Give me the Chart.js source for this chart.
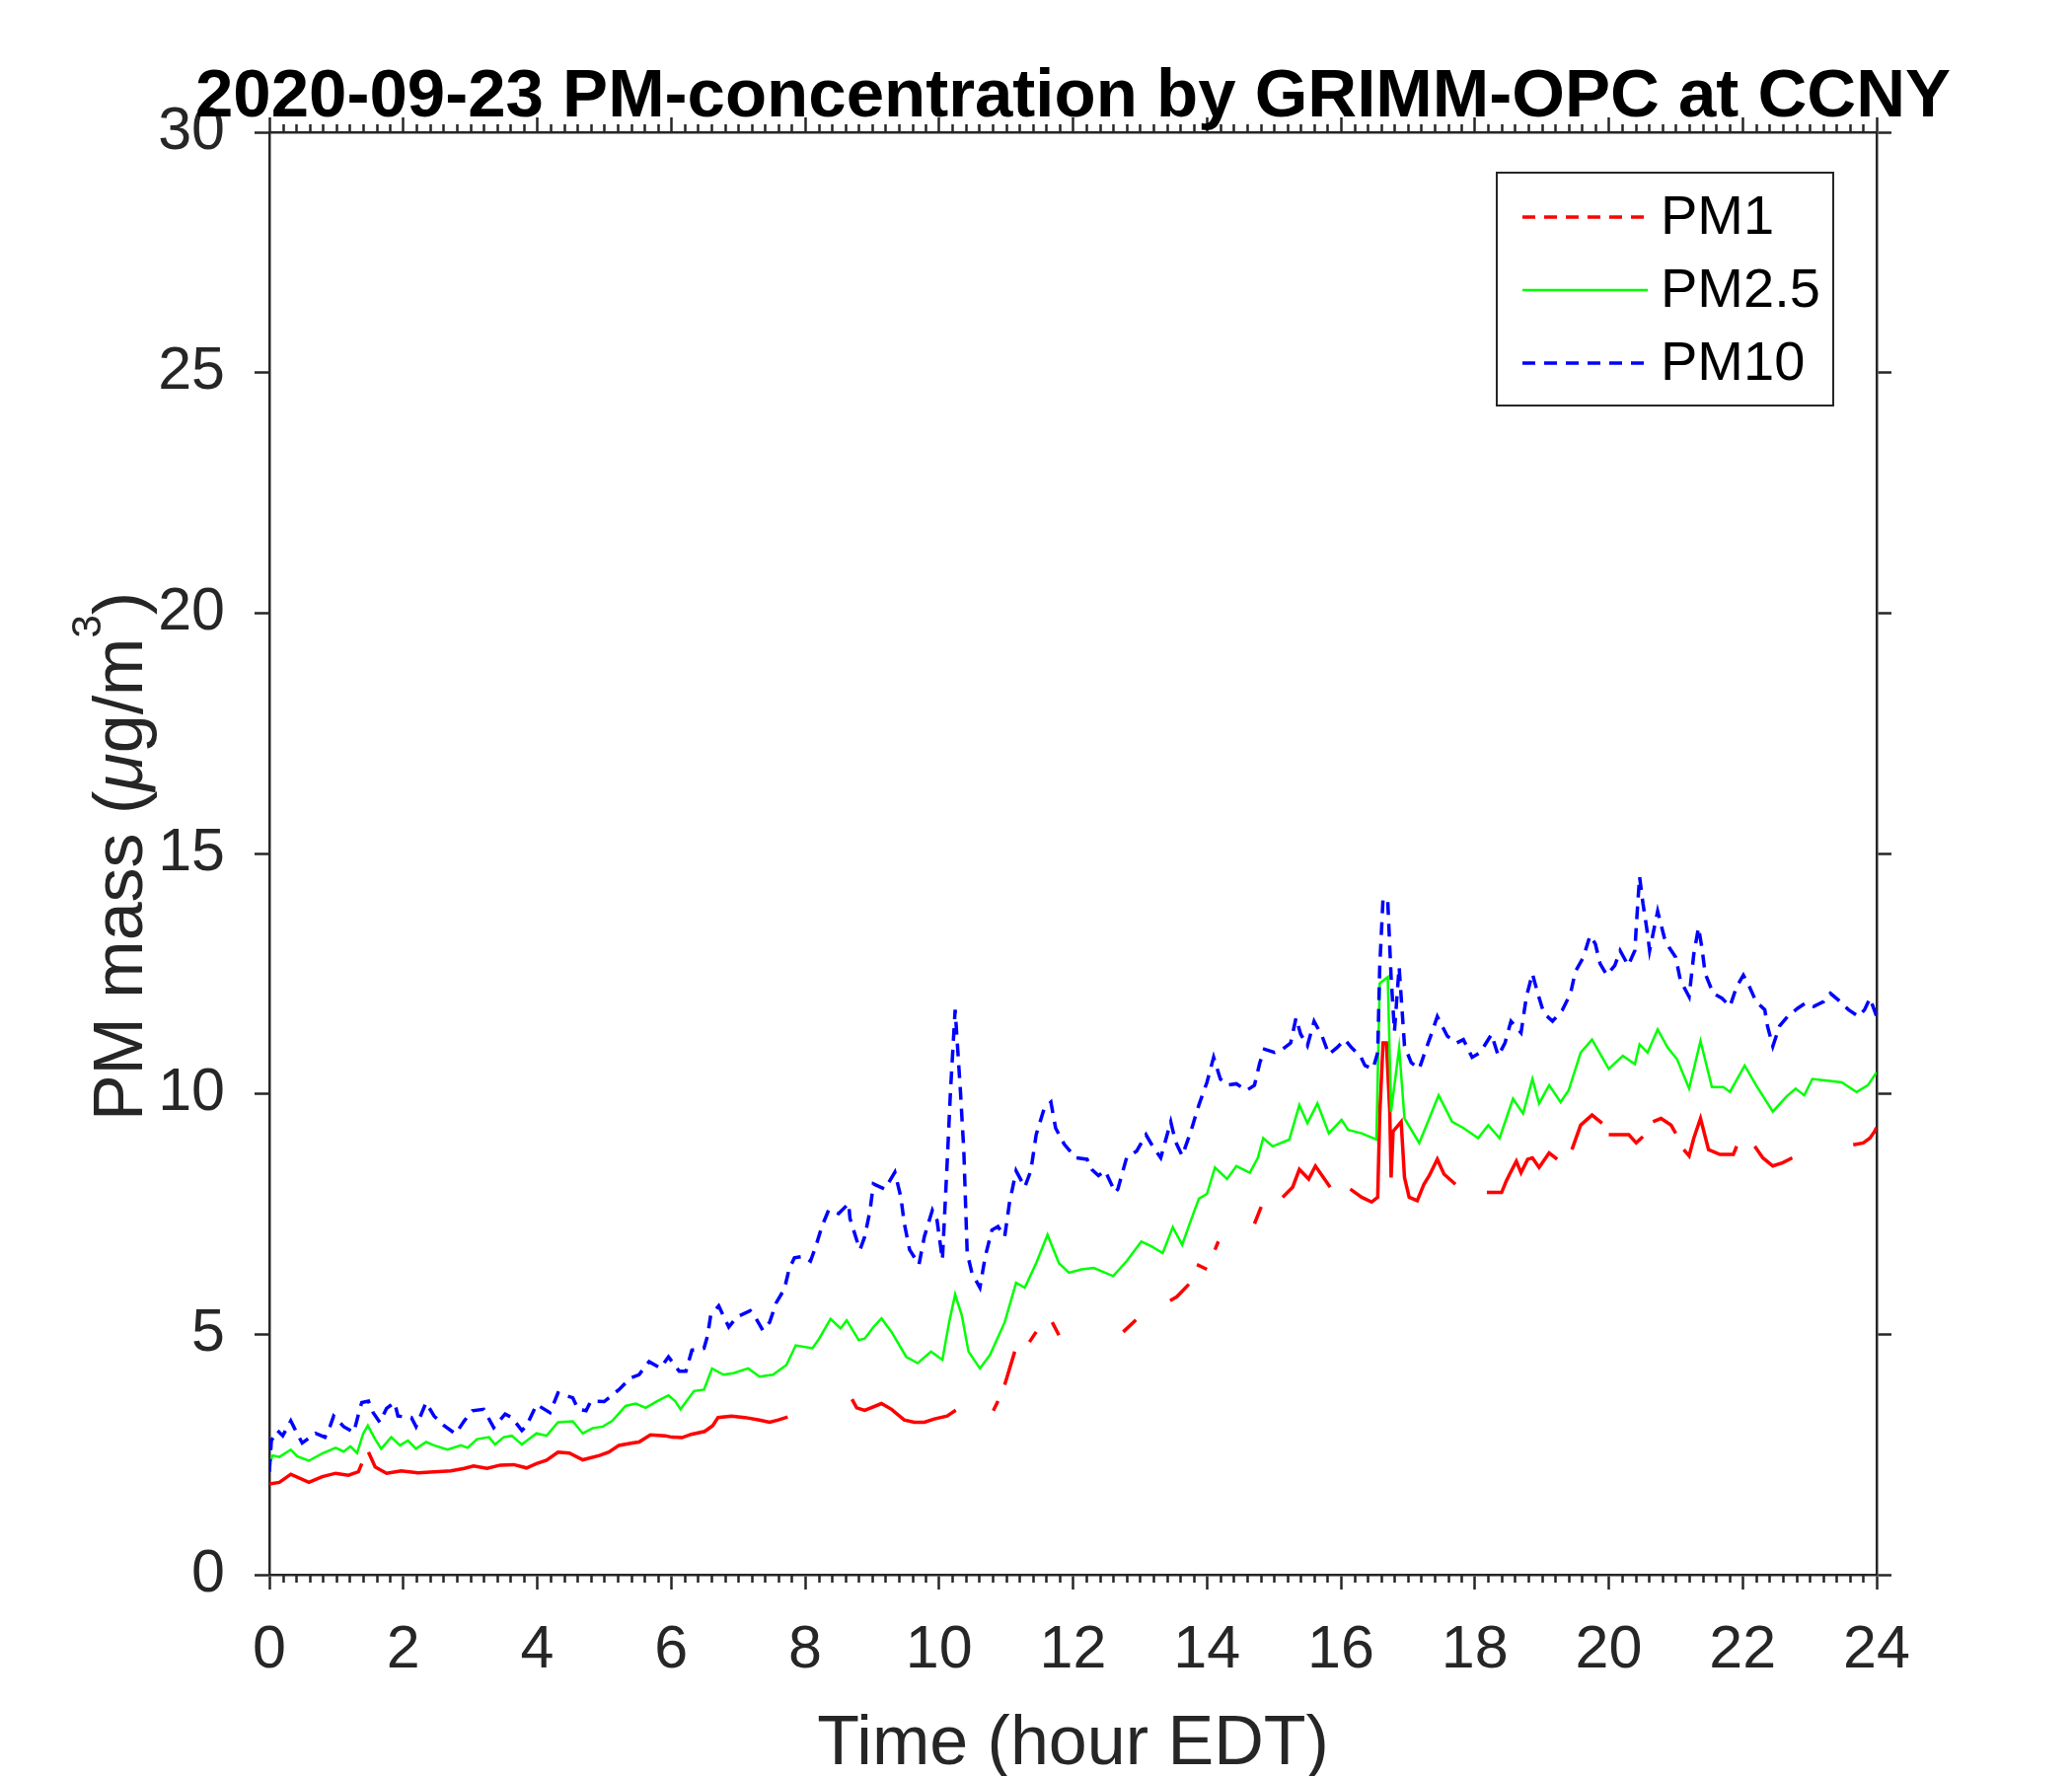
<!DOCTYPE html>
<html lang="en">
<head>
  <meta charset="UTF-8">
  <title>PM concentration GRIMM-OPC</title>
  <script src="https://cdn.jsdelivr.net/npm/chart.js"></script>
  <style>
    body { margin: 0; background: #fff; }
    #wrap { width: 2100px; height: 1800px; }
  </style>
</head>
<body>
  <div id="wrap"><canvas id="pmChart" width="2100" height="1800"></canvas></div>

  <script>
    const chartTitle = '2020-09-23 PM-concentration by GRIMM-OPC at CCNY';
    const xTitle = 'Time (hour EDT)';
    const seriesNames = ['PM1', 'PM2.5', 'PM10'];
    const xTicks = { min: 0, max: 24, step: 2, minorStep: 0.2 };
    const yTicks = { min: 0, max: 30, step: 5 };

    // PM1 (null = no visible line in the original)
    const pm1Time = [
      0, 0.15, 0.32, 0.59, 0.79, 0.99, 1.18, 1.33, 1.38, 1.43,
      1.48, 1.58, 1.75, 1.97, 2.22, 2.46, 2.71, 2.91, 3.05, 3.25,
      3.45, 3.65, 3.84, 3.99, 4.14, 4.31, 4.48, 4.68, 4.93, 5.07,
      5.22, 5.42, 5.52, 5.69, 5.91, 6.01, 6.16, 6.3, 6.5, 6.62,
      6.7, 6.9, 7.1, 7.3, 7.47, 7.6, 7.74, 8.2, 8.7, 8.77,
      8.89, 9.14, 9.29, 9.48, 9.63, 9.78, 9.93, 10.12, 10.25, 10.5,
      10.81, 10.88, 10.93, 10.98, 11.13, 11.25, 11.35, 11.45, 11.6, 11.69,
      11.79, 12.3, 12.75, 12.94, 13.2, 13.45, 13.55, 13.73, 13.8, 13.85,
      14.00, 14.06, 14.12, 14.17, 14.4, 14.71, 14.81, 15.0, 15.13, 15.28,
      15.38, 15.52, 15.62, 15.74, 15.84, 16.0, 16.14, 16.31, 16.46, 16.55,
      16.58, 16.63, 16.68, 16.73, 16.75, 16.78, 16.90, 16.95, 17.02, 17.14,
      17.24, 17.32, 17.44, 17.54, 17.71, 17.95, 18.18, 18.4, 18.47, 18.52,
      18.62, 18.69, 18.79, 18.86, 18.96, 19.11, 19.23, 19.35, 19.45, 19.58,
      19.75, 19.90, 19.95, 20.0, 20.3, 20.41, 20.51, 20.58, 20.66, 20.78,
      20.93, 21.00, 21.06, 21.12, 21.20, 21.27, 21.37, 21.44, 21.49, 21.66,
      21.86, 21.91, 22.05, 22.18, 22.30, 22.45, 22.60, 22.74, 23.2, 23.65,
      23.80, 23.90, 23.97, 24.0
    ];
    const pm1 = [
      1.89, 1.92, 2.09, 1.92, 2.04, 2.11, 2.07, 2.14, 2.31, null,
      2.55, 2.24, 2.11, 2.16, 2.12, 2.14, 2.16, 2.21, 2.26, 2.21,
      2.28, 2.29, 2.22, 2.31, 2.38, 2.55, 2.53, 2.39, 2.48, 2.55,
      2.69, 2.74, 2.76, 2.91, 2.89, 2.86, 2.85, 2.92, 2.98, 3.10,
      3.27, 3.30, 3.27, 3.22, 3.17, 3.22, 3.28, null, 3.65, 3.47,
      3.42, 3.56, 3.44, 3.22, 3.17, 3.17, 3.24, 3.30, 3.42, null,
      3.41, 3.61, null, 3.95, 4.64, null, 4.84, 5.05, null, 5.25,
      4.98, null, 5.05, 5.30, null, 5.70, 5.78, 6.04, null, 6.45,
      6.35, null, 6.76, 6.93, null, 7.30, 7.65, null, 7.85, 8.06,
      8.43, 8.23, 8.50, 8.26, 8.06, null, 8.02, 7.85, 7.75, 7.85,
      9.56, 11.06, 11.06, 9.63, 8.26, 9.22, 9.42, 8.26, 7.85, 7.78,
      8.12, 8.30, 8.64, 8.33, 8.12, null, 7.95, 7.95, 8.19, 8.33,
      8.60, 8.36, 8.64, 8.67, 8.47, 8.77, 8.64, null, 8.84, 9.35,
      9.56, 9.39, null, 9.15, 9.15, 8.98, 9.11, null, 9.42, 9.49,
      9.35, 9.18, null, 8.84, 8.71, 9.08, 9.49, 9.11, 8.84, 8.74,
      8.74, 8.91, null, 8.91, 8.67, 8.50, 8.57, 8.67, null, 8.94,
      8.98, 9.08, 9.22, 9.30
    ];

    // PM2.5
    const pm25Time = [
      0, 0.05, 0.15, 0.32, 0.42, 0.59, 0.79, 0.99, 1.11, 1.21,
      1.31, 1.40, 1.47, 1.58, 1.67, 1.82, 1.95, 2.07, 2.19, 2.34,
      2.46, 2.66, 2.86, 2.96, 3.10, 3.28, 3.37, 3.50, 3.62, 3.77,
      3.99, 4.14, 4.31, 4.53, 4.68, 4.83, 4.98, 5.12, 5.32, 5.47,
      5.62, 5.79, 5.96, 6.06, 6.14, 6.34, 6.49, 6.61, 6.78, 6.93,
      7.15, 7.32, 7.52, 7.72, 7.86, 8.11, 8.21, 8.38, 8.53, 8.62,
      8.80, 8.89, 9.02, 9.14, 9.29, 9.51, 9.68, 9.88, 10.05, 10.15,
      10.24, 10.34, 10.44, 10.61, 10.76, 10.98, 11.15, 11.28, 11.45, 11.62,
      11.79, 11.94, 12.13, 12.31, 12.60, 12.80, 13.02, 13.17, 13.34, 13.49,
      13.63, 13.76, 13.88, 14.00, 14.12, 14.30, 14.44, 14.64, 14.76, 14.84,
      14.98, 15.23, 15.38, 15.50, 15.65, 15.82, 16.01, 16.11, 16.31, 16.53,
      16.58, 16.70, 16.75, 16.87, 16.95, 17.17, 17.32, 17.46, 17.66, 17.83,
      18.05, 18.20, 18.37, 18.57, 18.72, 18.86, 18.96, 19.11, 19.28, 19.40,
      19.58, 19.75, 20.00, 20.21, 20.39, 20.46, 20.58, 20.73, 20.88, 21.02,
      21.20, 21.37, 21.54, 21.71, 21.81, 22.03, 22.20, 22.45, 22.65, 22.79,
      22.92, 23.04, 23.23, 23.48, 23.70, 23.87, 24.0
    ];
    const pm25 = [
      2.31, 2.48, 2.45, 2.60, 2.46, 2.37, 2.52, 2.64, 2.56, 2.67,
      2.53, 2.93, 3.10, 2.82, 2.62, 2.86, 2.69, 2.79, 2.62, 2.76,
      2.69, 2.60, 2.69, 2.64, 2.82, 2.86, 2.71, 2.86, 2.89, 2.71,
      2.94, 2.89, 3.17, 3.19, 2.94, 3.05, 3.08, 3.20, 3.51, 3.56,
      3.47, 3.61, 3.73, 3.61, 3.44, 3.82, 3.85, 4.29, 4.16, 4.19,
      4.29, 4.12, 4.16, 4.36, 4.77, 4.71, 4.91, 5.32, 5.12, 5.29,
      4.88, 4.91, 5.15, 5.33, 5.05, 4.53, 4.40, 4.64, 4.47, 5.25,
      5.83, 5.39, 4.64, 4.29, 4.57, 5.25, 6.07, 5.97, 6.48, 7.07,
      6.48, 6.28, 6.35, 6.38, 6.21, 6.52, 6.93, 6.83, 6.69, 7.23,
      6.86, 7.37, 7.82, 7.92, 8.47, 8.23, 8.50, 8.36, 8.67, 9.08,
      8.91, 9.05, 9.77, 9.39, 9.80, 9.18, 9.46, 9.25, 9.18, 9.05,
      12.30, 12.43, 9.63, 10.96, 9.49, 8.98, 9.49, 9.97, 9.42, 9.29,
      9.08, 9.35, 9.08, 9.90, 9.59, 10.31, 9.80, 10.18, 9.83, 10.07,
      10.86, 11.13, 10.52, 10.79, 10.62, 11.03, 10.86, 11.34, 10.96, 10.72,
      10.11, 11.10, 10.14, 10.14, 10.04, 10.59, 10.18, 9.63, 9.94, 10.11,
      9.97, 10.31, 10.28, 10.24, 10.04, 10.18, 10.45
    ];

    // PM10
    const pm10Time = [
      0, 0.03, 0.12, 0.2, 0.32, 0.37, 0.49, 0.57, 0.69, 0.83,
      0.91, 0.96, 1.11, 1.26, 1.35, 1.38, 1.48, 1.55, 1.65, 1.75,
      1.87, 1.92, 2.12, 2.19, 2.34, 2.46, 2.61, 2.78, 2.91, 3.03,
      3.20, 3.35, 3.52, 3.62, 3.77, 3.84, 3.99, 4.19, 4.31, 4.53,
      4.61, 4.73, 4.80, 5.00, 5.22, 5.39, 5.52, 5.67, 5.84, 5.96,
      6.12, 6.22, 6.31, 6.49, 6.54, 6.59, 6.71, 6.86, 6.98, 7.18,
      7.27, 7.37, 7.47, 7.57, 7.69, 7.76, 7.84, 7.96, 8.08, 8.16,
      8.25, 8.35, 8.50, 8.65, 8.67, 8.77, 8.82, 8.89, 8.97, 9.02,
      9.19, 9.34, 9.43, 9.48, 9.56, 9.70, 9.78, 9.90, 9.97, 10.05,
      10.12, 10.17, 10.24, 10.32, 10.37, 10.42, 10.49, 10.61, 10.69, 10.79,
      10.88, 10.98, 11.05, 11.15, 11.28, 11.37, 11.45, 11.57, 11.67, 11.74,
      11.87, 12.04, 12.21, 12.28, 12.38, 12.48, 12.63, 12.67, 12.80, 12.95,
      13.09, 13.19, 13.31, 13.46, 13.53, 13.63, 13.76, 13.88, 14.00, 14.10,
      14.20, 14.30, 14.44, 14.59, 14.71, 14.79, 14.86, 15.01, 15.13, 15.25,
      15.33, 15.40, 15.50, 15.60, 15.72, 15.82, 15.94, 16.06, 16.16, 16.29,
      16.36, 16.48, 16.55, 16.58, 16.63, 16.70, 16.75, 16.80, 16.87, 16.95,
      17.05, 17.17, 17.27, 17.34, 17.44, 17.59, 17.73, 17.83, 17.96, 18.08,
      18.25, 18.35, 18.45, 18.54, 18.69, 18.77, 18.86, 18.94, 19.03, 19.16,
      19.31, 19.43, 19.50, 19.62, 19.72, 19.80, 19.87, 19.97, 20.09, 20.17,
      20.29, 20.39, 20.41, 20.46, 20.51, 20.58, 20.61, 20.68, 20.73, 20.83,
      20.90, 21.00, 21.07, 21.20, 21.27, 21.34, 21.39, 21.44, 21.56, 21.69,
      21.81, 21.91, 22.01, 22.10, 22.20, 22.33, 22.37, 22.45, 22.55, 22.67,
      22.82, 22.94, 23.06, 23.21, 23.31, 23.43, 23.58, 23.73, 23.82, 23.90,
      24.0
    ];
    const pm10 = [
      2.14, 2.79, 3.00, 2.89, 3.20, 3.06, 2.74, 2.82, 2.94, 2.86,
      3.10, 3.30, 3.08, 2.96, 3.44, 3.58, 3.61, 3.37, 3.17, 3.46,
      3.58, 3.30, 3.27, 3.08, 3.58, 3.30, 3.10, 2.93, 3.20, 3.41,
      3.44, 3.06, 3.34, 3.27, 3.00, 3.10, 3.54, 3.37, 3.78, 3.68,
      3.44, 3.41, 3.61, 3.60, 3.85, 4.09, 4.16, 4.43, 4.30, 4.53,
      4.23, 4.23, 4.67, 4.71, 4.95, 5.39, 5.59, 5.15, 5.36, 5.49,
      5.32, 5.08, 5.25, 5.66, 5.94, 6.35, 6.59, 6.62, 6.52, 6.83,
      7.24, 7.58, 7.51, 7.72, 7.41, 6.96, 6.76, 7.03, 7.58, 8.13,
      8.02, 8.37, 7.85, 7.31, 6.76, 6.45, 7.03, 7.58, 7.37, 6.55,
      8.54, 10.04, 11.75, 10.04, 8.81, 6.69, 6.28, 5.97, 6.62, 7.17,
      7.24, 7.03, 7.72, 8.40, 8.06, 8.40, 9.15, 9.70, 9.83, 9.29,
      8.95, 8.67, 8.64, 8.43, 8.30, 8.40, 7.95, 8.02, 8.67, 8.81,
      9.15, 8.91, 8.67, 9.42, 9.01, 8.71, 9.22, 9.77, 10.24, 10.76,
      10.31, 10.18, 10.21, 10.07, 10.18, 10.65, 10.93, 10.86, 10.93, 11.06,
      11.58, 11.24, 11.00, 11.51, 11.20, 10.82, 10.96, 11.13, 10.96, 10.79,
      10.59, 10.52, 10.86, 12.64, 14.07, 14.01, 12.43, 11.30, 12.64, 11.00,
      10.65, 10.52, 10.93, 11.20, 11.61, 11.20, 11.06, 11.13, 10.76, 10.86,
      11.24, 10.79, 11.06, 11.51, 11.27, 12.02, 12.50, 12.09, 11.68, 11.51,
      11.75, 12.09, 12.54, 12.84, 13.29, 13.12, 12.71, 12.47, 12.67, 12.98,
      12.67, 12.98, 13.46, 14.52, 13.97, 13.32, 12.98, 13.46, 13.80, 13.25,
      13.05, 12.84, 12.36, 12.02, 12.91, 13.46, 13.05, 12.50, 12.09, 11.99,
      11.82, 12.23, 12.47, 12.23, 11.92, 11.75, 11.41, 10.99, 11.41, 11.61,
      11.78, 11.89, 11.82, 11.92, 12.09, 11.95, 11.75, 11.61, 11.75, 11.99,
      11.61
    ];

    const FONT = '"Liberation Sans", Arial, Helvetica, sans-serif';
    const AXIS_COLOR = '#262626';
    const DASH = [13, 9];

    Chart.defaults.font.family = FONT;

    function toPoints(ts, vs) {
      if (ts.length !== vs.length) console.warn('length mismatch', ts.length, vs.length);
      return ts.map((t, i) => ({ x: t, y: vs[i] }));
    }

    // extra drawing: minor x ticks, title, axis titles, boxed legend
    const decorations = {
      id: 'decorations',
      afterDraw(chart) {
        const ctx = chart.ctx;
        const ca = chart.chartArea;
        const xs = chart.scales.x;
        const cx = (ca.left + ca.right) / 2;

        ctx.save();
        ctx.strokeStyle = AXIS_COLOR;
        ctx.lineWidth = 2.5;
        const nMinor = Math.round((xTicks.max - xTicks.min) / xTicks.minorStep);
        const perMajor = Math.round(xTicks.step / xTicks.minorStep);
        for (let k = 0; k <= nMinor; k++) {
          if (k % perMajor === 0) continue;
          const px = Math.round(xs.getPixelForValue(xTicks.min + k * xTicks.minorStep)) + 0.5;
          ctx.beginPath();
          ctx.moveTo(px, ca.bottom); ctx.lineTo(px, ca.bottom + 8);
          ctx.moveTo(px, ca.top); ctx.lineTo(px, ca.top - 8);
          ctx.stroke();
        }

        // title
        ctx.fillStyle = '#000';
        ctx.font = 'bold 69px ' + FONT;
        ctx.textAlign = 'center';
        ctx.textBaseline = 'alphabetic';
        ctx.fillText(chartTitle, cx, 118);

        // x label
        ctx.fillStyle = AXIS_COLOR;
        ctx.font = '70px ' + FONT;
        ctx.fillText(xTitle, cx, 1788);

        // y label with italic mu and superscript 3
        const parts = [
          { t: 'PM mass (', f: '70px ' + FONT, dy: 0 },
          { t: '\u03BC', f: 'italic 70px ' + FONT, dy: 0 },
          { t: 'g/m', f: '70px ' + FONT, dy: 0 },
          { t: '3', f: '42px ' + FONT, dy: -42 },
          { t: ')', f: '70px ' + FONT, dy: 0 }
        ];
        let total = 0;
        parts.forEach(p => { ctx.font = p.f; p.w = ctx.measureText(p.t).width; total += p.w; });
        ctx.translate(144, (ca.top + ca.bottom) / 2 + 3);
        ctx.rotate(-Math.PI / 2);
        ctx.textAlign = 'left';
        let pos = -total / 2;
        parts.forEach(p => { ctx.font = p.f; ctx.fillText(p.t, pos, p.dy); pos += p.w; });
        ctx.restore();

        // legend box
        ctx.save();
        const box = { x: 1517, y: 175, w: 341, h: 236 };
        ctx.fillStyle = '#fff';
        ctx.fillRect(box.x, box.y, box.w, box.h);
        ctx.strokeStyle = AXIS_COLOR;
        ctx.lineWidth = 2;
        ctx.strokeRect(box.x, box.y, box.w, box.h);
        const rowY = [220, 294, 368];
        chart.data.datasets.forEach((ds, i) => {
          ctx.beginPath();
          ctx.strokeStyle = ds.borderColor;
          ctx.lineWidth = ds.borderWidth;
          ctx.setLineDash(ds.legendDash || []);
          ctx.moveTo(1543, rowY[i]);
          ctx.lineTo(1670, rowY[i]);
          ctx.stroke();
          ctx.setLineDash([]);
          ctx.fillStyle = '#000';
          ctx.font = '56px ' + FONT;
          ctx.textAlign = 'left';
          ctx.textBaseline = 'middle';
          ctx.fillText(ds.label, 1683, rowY[i] + 2);
        });
        ctx.restore();
      }
    };

    const gridOpts = {
      drawOnChartArea: false,
      drawTicks: true,
      tickLength: 15,
      tickWidth: 2.5,
      tickColor: AXIS_COLOR
    };
    const borderOpts = { display: true, color: AXIS_COLOR, width: 2.5 };

    new Chart(document.getElementById('pmChart'), {
      type: 'line',
      data: {
        datasets: [
          { label: seriesNames[0], data: toPoints(pm1Time, pm1), borderColor: '#ff0000', borderWidth: 3.5,
            pointRadius: 0, spanGaps: false, tension: 0, order: 3, legendDash: DASH },
          { label: seriesNames[1], data: toPoints(pm25Time, pm25), borderColor: '#00ff00', borderWidth: 2.5,
            pointRadius: 0, tension: 0, order: 2 },
          { label: seriesNames[2], data: toPoints(pm10Time, pm10), borderColor: '#0000ff', borderWidth: 3.5,
            borderDash: DASH, pointRadius: 0, tension: 0, order: 1, legendDash: DASH }
        ]
      },
      options: {
        responsive: false,
        animation: false,
        devicePixelRatio: 1,
        layout: { padding: { left: 73, right: 178, top: 114, bottom: 54 } },
        plugins: { legend: { display: false }, title: { display: false }, tooltip: { enabled: false } },
        scales: {
          x: {
            type: 'linear', position: 'bottom', min: xTicks.min, max: xTicks.max,
            ticks: { stepSize: xTicks.step, color: AXIS_COLOR, font: { size: 61 }, padding: 26, maxRotation: 0, autoSkip: false },
            grid: gridOpts, border: borderOpts,
            afterFit: s => { s.height = 150; }
          },
          x2: {
            type: 'linear', position: 'top', min: xTicks.min, max: xTicks.max,
            ticks: { stepSize: xTicks.step, display: false },
            grid: gridOpts, border: borderOpts,
            afterFit: s => { s.height = 20; }
          },
          y: {
            type: 'linear', position: 'left', min: yTicks.min, max: yTicks.max,
            ticks: { stepSize: yTicks.step, color: AXIS_COLOR, font: { size: 61 }, padding: 30 },
            grid: gridOpts, border: borderOpts,
            afterFit: s => { s.width = 200; }
          },
          y2: {
            type: 'linear', position: 'right', min: yTicks.min, max: yTicks.max,
            ticks: { stepSize: yTicks.step, display: false },
            grid: gridOpts, border: borderOpts,
            afterFit: s => { s.width = 20; }
          }
        }
      },
      plugins: [decorations]
    });
  </script>
</body>
</html>
